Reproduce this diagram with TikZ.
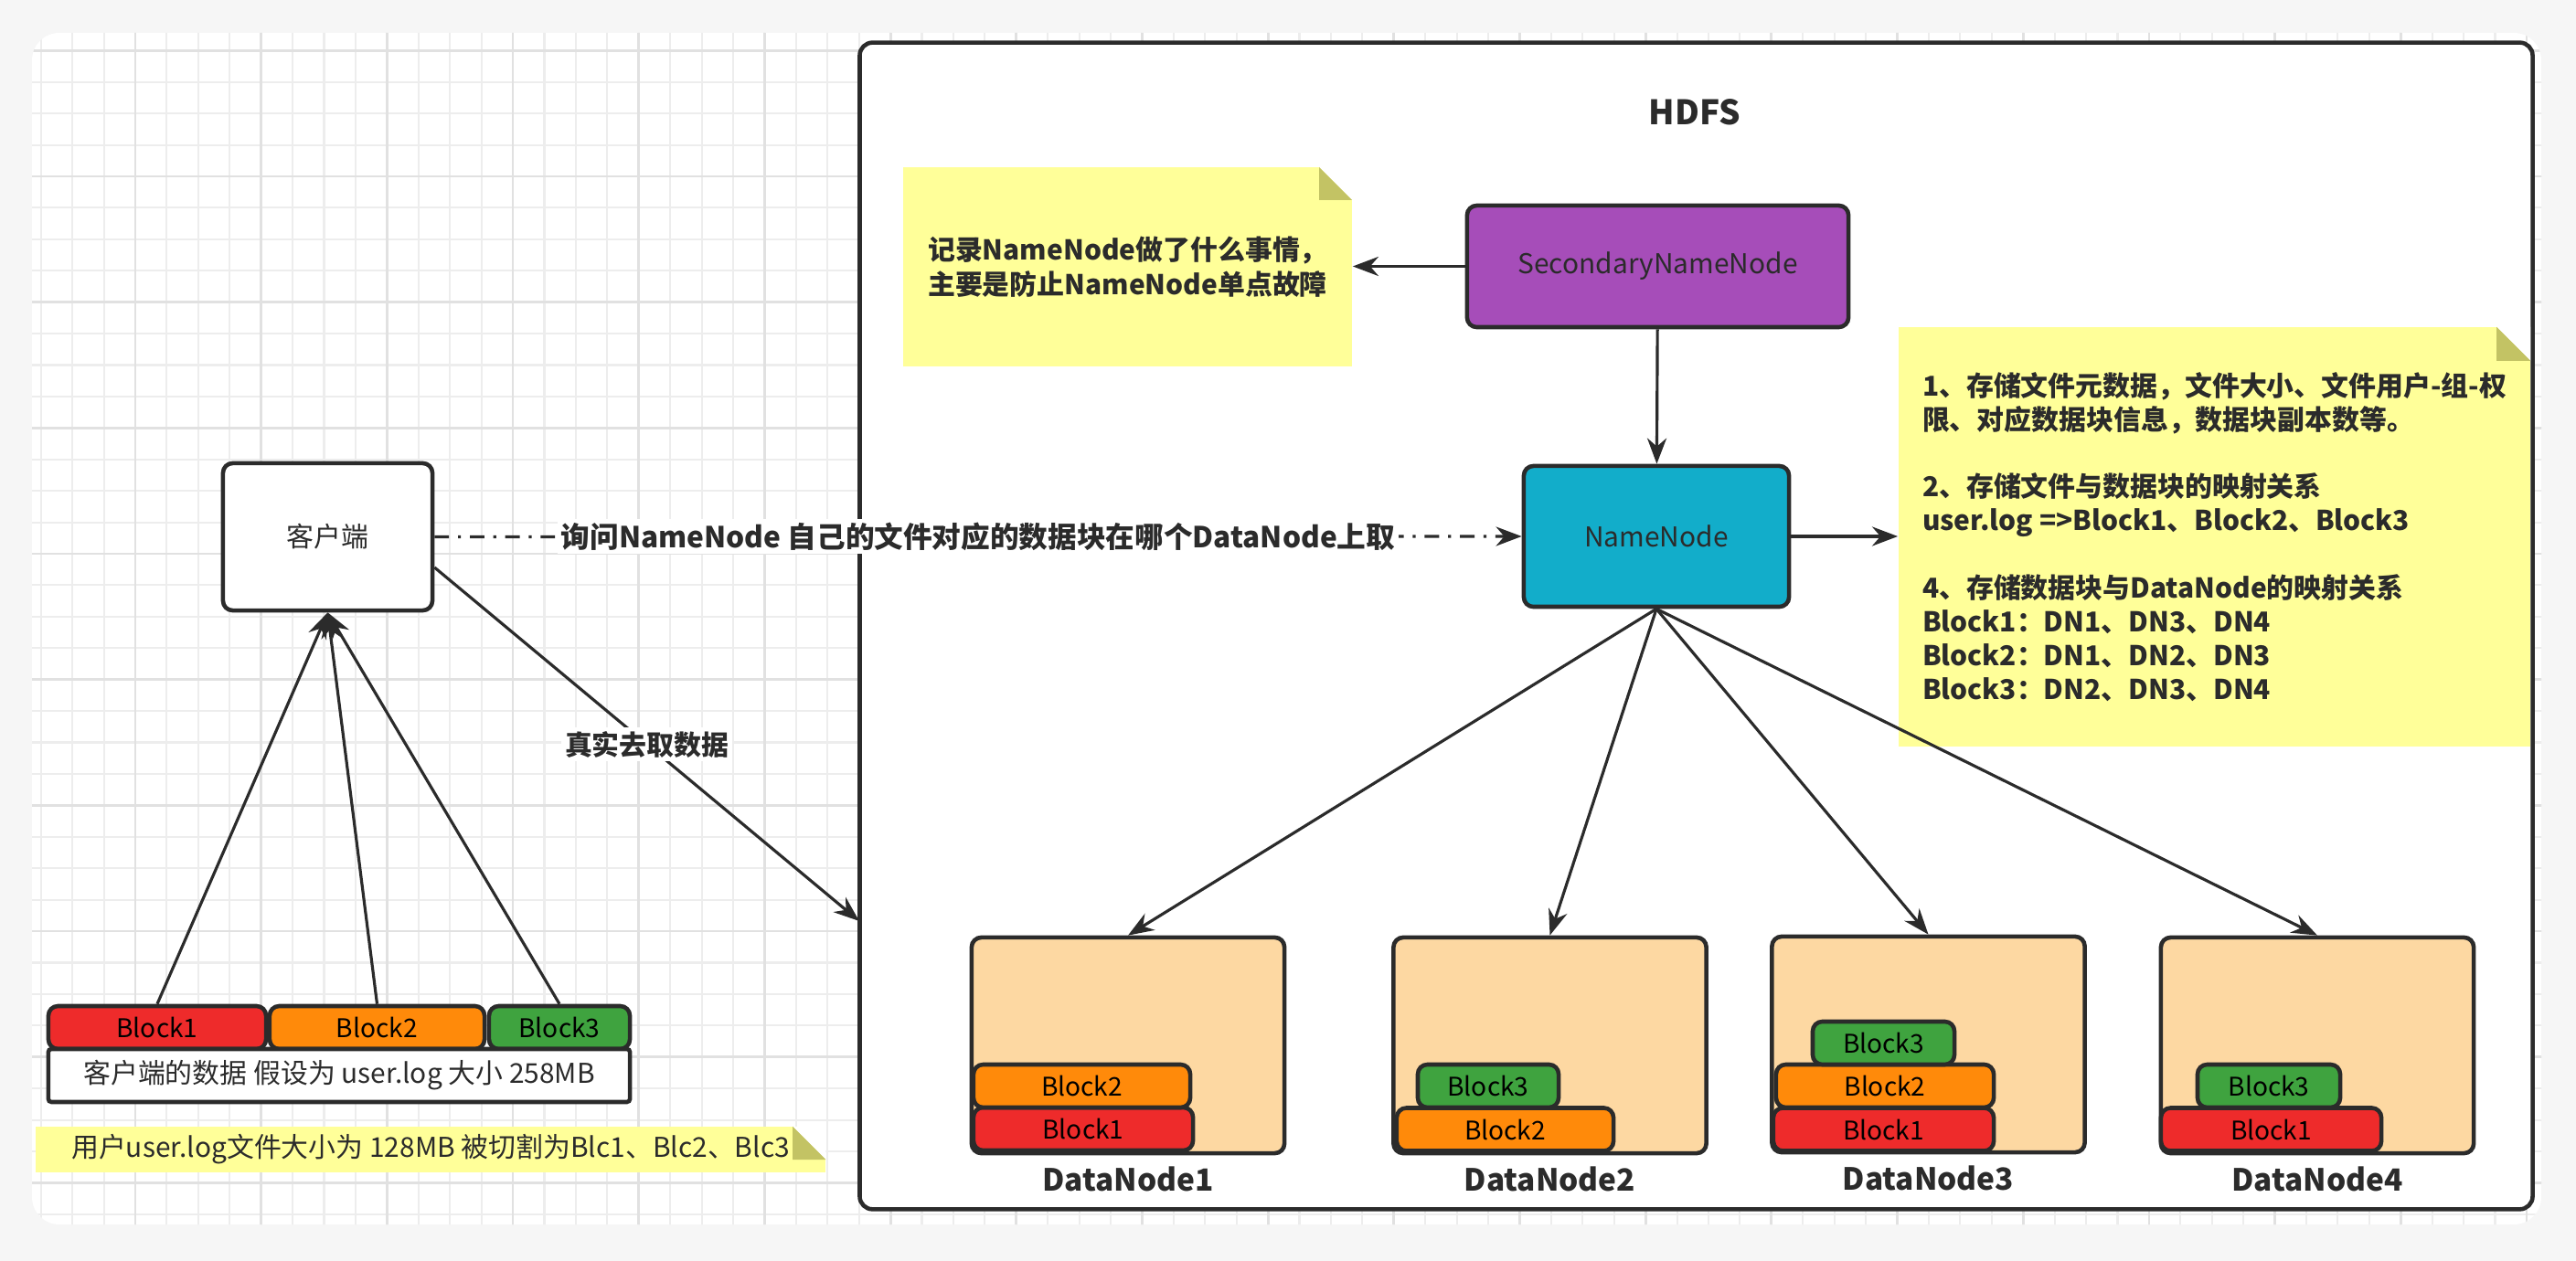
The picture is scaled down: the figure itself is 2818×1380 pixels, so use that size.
\documentclass[tikz,border=0pt]{standalone}
\usepackage{fontspec}
\setmainfont{Noto Sans CJK SC}
\usetikzlibrary{arrows.meta,positioning}

\definecolor{ink}{HTML}{2B2B2B}
\definecolor{blkred}{HTML}{EE2B2B}
\definecolor{blkorange}{HTML}{FF8A0A}
\definecolor{blkgreen}{HTML}{3FA33F}
\definecolor{snncol}{HTML}{A64DB9}
\definecolor{nncol}{HTML}{12ADCA}
\definecolor{dncol}{HTML}{FDD8A2}
\definecolor{notey}{HTML}{FFFF99}
\definecolor{foldy}{HTML}{C3C364}
\definecolor{gridminor}{HTML}{EDEDED}
\definecolor{gridmajor}{HTML}{E1E1E1}

\tikzset{
  box/.style={draw=ink, line width=1.3pt, rounded corners=3pt, text=ink,
    font=\fontsize{8.5}{10}\selectfont, inner sep=0pt},
  blk/.style={box, minimum height=0.47cm, text=black, font=\fontsize{8}{10}\selectfont},
  dnbox/.style={box, fill=dncol, minimum width=3.42cm, minimum height=2.36cm},
  dnname/.style={font=\fontsize{9.5}{11}\selectfont\bfseries, text=ink},
  memo/.style={fill=notey, inner sep=0pt, align=left, text=ink, path picture={
      \fill[white] (path picture bounding box.north east) -- ++(-#1,0) -- ++(#1,-#1) -- cycle;
      \fill[foldy] (path picture bounding box.north east) ++(-#1,0) -- ++(0,-#1) -- ++(#1,0) -- cycle;}},
  link/.style={draw=ink, line width=0.9pt, -{Stealth[length=8pt,width=6pt]}},
  ask/.style={link, dash pattern=on 4.5pt off 2.8pt on 0.9pt off 2.8pt},
  edgetag/.style={fill=white, text=ink, font=\fontsize{8.5}{10}\selectfont\bfseries, inner sep=1pt},
}

\begin{document}
\begin{tikzpicture}[x=0.01cm, y=-0.01cm]
\useasboundingbox[fill=gray!7] (0,0) rectangle (2818,1380);

% grid paper
\begin{scope}
\clip[rounded corners=0.3cm] (35,36) rectangle (2780,1340);
\fill[white] (35,36) rectangle (2780,1340);
\begin{scope}[shift={(148,193)}, x=1cm, y=1cm]
\draw[gridminor, line width=0.6pt, step=0.344cm] (-2,-14) grid (28,2);
\draw[gridmajor, line width=0.8pt, step=1.376cm] (-2,-14) grid (28,2);
\end{scope}
\end{scope}

% HDFS
\node[draw=ink, line width=1.3pt, fill=white, rounded corners=4pt, inner sep=0pt,
      minimum width=18.29cm, minimum height=12.76cm] (hdfs) at (1855.5,685) {};
\node[font=\fontsize{10.5}{12}\selectfont\bfseries, text=ink] (title) at (1854,123) {HDFS};

\node[memo=0.36cm, minimum width=4.91cm, minimum height=2.18cm,
      font=\fontsize{8.5}{10.8}\selectfont\bfseries] (memo1) at (1233.5,292)
      {记录NameNode做了什么事情，\\主要是防止NameNode单点故障};
\node[box, fill=snncol, minimum width=4.17cm, minimum height=1.33cm] (snn) at (1813.5,291.5) {SecondaryNameNode};
\node[box, fill=nncol, minimum width=2.90cm, minimum height=1.54cm] (nn) at (1812,587) {NameNode};
\node[memo=0.37cm, minimum width=6.91cm, minimum height=4.59cm,
      font=\fontsize{8.5}{10.5}\selectfont\bfseries] (memo2) at (2422.5,587.5)
      {1、存储文件元数据，文件大小、文件用户-组-权\\
       限、对应数据块信息，数据块副本数等。\\[10.5pt]
       2、存储文件与数据块的映射关系\\
       user.log =>Block1、Block2、Block3\\[10.5pt]
       4、存储数据块与DataNode的映射关系\\
       Block1：DN1、DN3、DN4\\
       Block2：DN1、DN2、DN3\\
       Block3：DN2、DN3、DN4};

% data nodes
\node[dnbox] (dn1) at (1234,1144) {};
\node[dnbox] (dn2) at (1695.5,1144) {};
\node[dnbox] (dn3) at (2109.5,1143) {};
\node[dnbox] (dn4) at (2535,1144) {};
\node[dnname, below=0pt of dn1] (dn1t) {DataNode1};
\node[dnname, below=0pt of dn2] (dn2t) {DataNode2};
\node[dnname, below=0pt of dn3] (dn3t) {DataNode3};
\node[dnname, below=0pt of dn4] (dn4t) {DataNode4};

\node[blk, fill=blkred,    minimum width=2.40cm] (d1b1) at (1185,1235.5)   {Block1};
\node[blk, fill=blkorange, minimum width=2.37cm] (d1b2) at (1183.5,1188.5) {Block2};
\node[blk, fill=blkorange, minimum width=2.37cm] (d2b2) at (1646.5,1236)   {Block2};
\node[blk, fill=blkgreen,  minimum width=1.54cm] (d2b3) at (1628,1188.5)   {Block3};
\node[blk, fill=blkred,    minimum width=2.41cm] (d3b1) at (2060.5,1236)   {Block1};
\node[blk, fill=blkorange, minimum width=2.38cm] (d3b2) at (2062,1188.5)   {Block2};
\node[blk, fill=blkgreen,  minimum width=1.55cm] (d3b3) at (2060.5,1141.5) {Block3};
\node[blk, fill=blkred,    minimum width=2.41cm] (d4b1) at (2484.5,1236)   {Block1};
\node[blk, fill=blkgreen,  minimum width=1.56cm] (d4b3) at (2482,1188.5)   {Block3};

% client side
\node[box, fill=white, minimum width=2.29cm, minimum height=1.61cm] (client) at (358.5,587.5) {客户端};
\node[blk, fill=blkred,    minimum width=2.38cm] (cb1) at (172,1124.5)   {Block1};
\node[blk, fill=blkorange, minimum width=2.35cm] (cb2) at (412.5,1124.5) {Block2};
\node[blk, fill=blkgreen,  minimum width=1.54cm] (cb3) at (612,1124.5)   {Block3};
\node[box, fill=white, rounded corners=1pt, minimum width=6.36cm, minimum height=0.58cm]
      (cdata) at (371,1177) {客户端的数据 假设为 user.log 大小 258MB};
\node[memo=0.36cm, minimum width=8.64cm, minimum height=0.50cm,
      font=\fontsize{8.5}{10}\selectfont] (memo3) at (471,1258)
      {用户user.log文件大小为 128MB 被切割为Blc1、Blc2、Blc3};
\coordinate (fetch) at (940,1008);

% connectors
\draw[link] (snn.west) -- (snn.west -| memo1.east);
\draw[link] (snn) -- (nn);
\draw[link] (nn.east) -- (nn.east -| memo2.west);
\draw[link] (nn.south) -- (dn1.north);
\draw[link] (nn.south) -- (dn2.north);
\draw[link] (nn.south) -- (dn3.north);
\draw[link] (nn.south) -- (dn4.north);
\draw[ask]  (client.east) -- (nn.west)
      node[edgetag, midway, font=\fontsize{9}{10}\selectfont\bfseries] (asktag)
      {询问NameNode 自己的文件对应的数据块在哪个DataNode上取};
\draw[link] (client.-16) -- (fetch) node[edgetag, midway] (fetchtag) {真实去取数据};
\draw[link] (cb1.north) -- (client.south);
\draw[link] (cb2.north) -- (client.south);
\draw[link] (cb3.north) -- (client.south);
\end{tikzpicture}
\end{document}
